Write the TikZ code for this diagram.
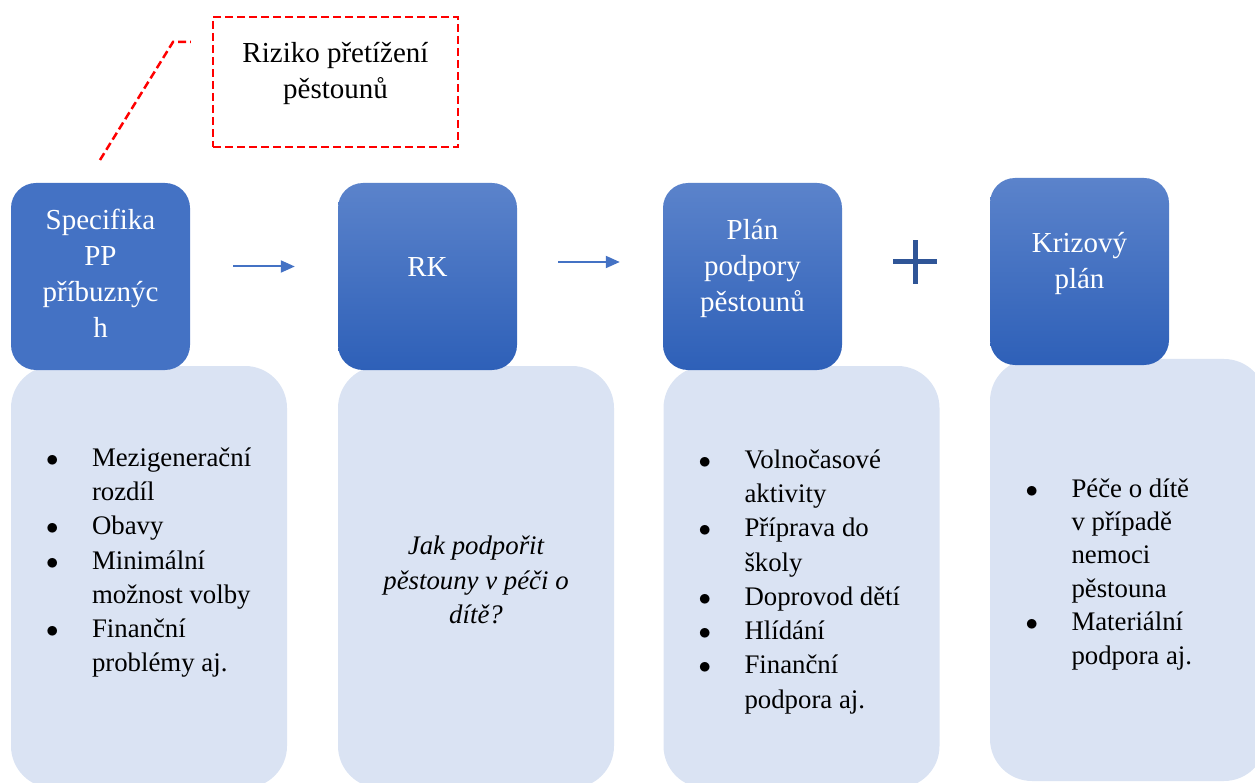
\documentclass[tikz,border=0pt]{standalone}
\usepackage{fontspec}
\setmainfont{LiberationSerif}[Extension=.ttf, UprightFont=*-Regular, ItalicFont=*-Italic, BoldFont=*-Bold, BoldItalicFont=*-BoldItalic]
\usetikzlibrary{arrows.meta}
\definecolor{boxblue}{HTML}{4472C4}
\definecolor{topblue}{HTML}{5B83CB}
\definecolor{botblue}{HTML}{2E60B8}
\definecolor{paleblue}{HTML}{DAE3F3}
\definecolor{plusblue}{HTML}{2F5597}
\newcommand{\bul}{\makebox[46pt][l]{$\bullet$}}
\newcommand{\ind}{\makebox[46pt]{}}

\begin{document}
\begin{tikzpicture}[x=1pt,y=-1pt]
    \tikzset{head/.style = {rounded corners=25pt, minimum width=179pt, minimum height=187pt, inner sep=0pt}}
    \tikzset{shadedhead/.style = {head, top color=topblue, bottom color=botblue}}
    \tikzset{body/.style = {fill=paleblue, rounded corners=42pt, minimum width=276pt, minimum height=422pt, inner sep=0pt}}
    \tikzset{headtext/.style = {text=white, align=center, inner sep=0pt, font=\fontsize{29}{36}\selectfont}}
    \tikzset{bodytext/.style = {align=left, inner sep=0pt, anchor=north west, font=\fontsize{26.8}{34.3}\selectfont}}
    \tikzset{flow/.style = {-{Triangle[length=14pt,width=12pt]}, draw=boxblue, line width=2pt, shorten <=43pt, shorten >=43pt}}
    \tikzset{riskline/.style = {draw=red, line width=2.5pt, dash pattern=on 8pt off 4pt}}
    \useasboundingbox (0,0) rectangle (1255,783);
    % light boxes below the heads
    \node[body] (spec-body) at (149,577) {};
    \node[body] (rk-body) at (476,577) {};
    \node[body] (plan-body) at (801.5,577) {};
    \node[body] (krize-body) at (1128,570) {};
    % heads
    \node[head, fill=boxblue] (spec) at (100.5,276.5) {};
    \node[shadedhead] (rk) at (427.5,276.5) {};
    \node[shadedhead] (plan) at (752.5,276.5) {};
    \node[shadedhead] (krize) at (1079.5,271.5) {};
    \node[headtext] at ([yshift=3.5]spec.center) {Specifika\\PP\\příbuznýc\\h};
    \node[headtext] at ([yshift=9.5]rk.center) {RK};
    \node[headtext] at ([yshift=7.5]plan.center) {Plán\\podpory\\pěstounů};
    \node[headtext] at ([yshift=7.5]krize.center) {Krizový\\plán};
    % lists
    \node[bodytext] at ([xshift=35,yshift=-81.5]spec-body.north west)
        {\bul Mezigenerační\\\ind rozdíl\\\bul Obavy\\\bul Minimální\\\ind možnost volby\\\bul Finanční\\\ind problémy aj.};
    \node[bodytext, align=center, anchor=center, font=\fontsize{26.8}{34.3}\selectfont\itshape] at (476,580)
        {Jak podpořit\\pěstouny v péči o\\dítě?};
    \node[bodytext] at ([xshift=35,yshift=-83.5]plan-body.north west)
        {\bul Volnočasové\\\ind aktivity\\\bul Příprava do\\\ind školy\\\bul Doprovod dětí\\\bul Hlídání\\\bul Finanční\\\ind podpora aj.};
    \node[bodytext, font=\fontsize{26.8}{33.4}\selectfont] at ([xshift=35.5,yshift=-119.5]krize-body.north west)
        {\bul Péče o dítě\\\ind v případě\\\ind nemoci\\\ind pěstouna\\\bul Materiální\\\ind podpora aj.};
    % risk callout
    \node[riskline, minimum width=245pt, minimum height=130pt] (risk) at (335.5,82) {};
    \node[inner sep=0pt, align=center, font=\fontsize{29}{36}\selectfont] at ([yshift=8]risk.center) {Riziko přetížení\\pěstounů};
    \coordinate (tip) at (100,160);
    \coordinate (knee) at (173,42);
    \draw[riskline] (tip) -- (knee) -- ([xshift=-21]risk.west |- knee);
    % arrows and plus
    \draw[flow] ([yshift=10]spec.east) -- ([yshift=10]rk.west);
    \draw[flow, shorten <=41pt] ([yshift=14.5]rk.east) -- ([yshift=14.5]plan.west);
    \coordinate (plus) at (915,262);
    \draw[plusblue, line width=5pt] ([xshift=-22]plus) -- ([xshift=22]plus) ([yshift=-22]plus) -- ([yshift=22]plus);
\end{tikzpicture}
\end{document}
